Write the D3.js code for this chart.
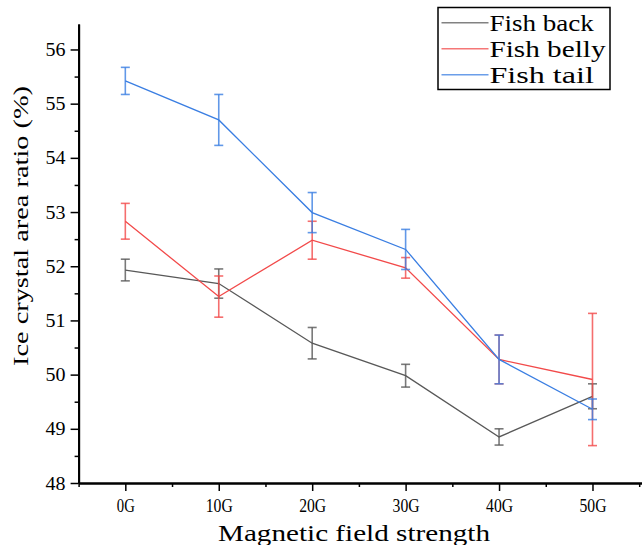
<!DOCTYPE html>
<html>
<head>
<meta charset="utf-8">
<script src="https://cdn.jsdelivr.net/npm/d3@7.9.0/dist/d3.min.js"></script>
<style>
  body { margin: 0; background: #fff; }
  svg { display: block; }
  text { font-family: "Liberation Serif", "DejaVu Serif", serif; fill: #000; }
</style>
</head>
<body>
<svg id="chart" width="642" height="545"></svg>
<script>
const categories = ['0G', '10G', '20G', '30G', '40G', '50G'];
const fieldValues = [0, 10, 20, 30, 40, 50];

const backMean = [51.93, 51.68, 50.58, 49.98, 48.85, 49.60];
const backErr = [0.20, 0.27, 0.29, 0.21, 0.15, 0.23];
const bellyMean = [52.83, 51.44, 52.48, 51.97, 50.28, 49.91];
const bellyErr = [0.33, 0.38, 0.35, 0.19, 0.45, 1.22];
const tailMean = [55.42, 54.70, 52.99, 52.31, 50.28, 49.36];
const tailErr = [0.25, 0.47, 0.37, 0.37, 0.45, 0.19];

const seriesNames = ['Fish back', 'Fish belly', 'Fish tail'];
const seriesColors = ['#585858', '#f24a4a', '#3a7ee2'];

const yTicks = [48, 49, 50, 51, 52, 53, 54, 55, 56];

const series = [
  { name: seriesNames[0], mean: backMean, err: backErr, color: seriesColors[0] },
  { name: seriesNames[1], mean: bellyMean, err: bellyErr, color: seriesColors[1] },
  { name: seriesNames[2], mean: tailMean, err: tailErr, color: seriesColors[2] },
];

const svg = d3.select('#chart');

const x = d3.scaleLinear().domain([-5, 55.3]).range([78.6, 642]);
const y = d3.scaleLinear().domain([48, 56.47]).range([483, 24]);

// y axis: minor ticks then major ticks with labels
svg.append('g')
  .attr('transform', 'translate(78.6,0)')
  .call(d3.axisLeft(y).tickValues(d3.range(48.5, 56.5, 1)).tickSize(4).tickFormat('').tickSizeOuter(0));

const yAxis = svg.append('g')
  .attr('transform', 'translate(78.6,0)')
  .call(d3.axisLeft(y).tickValues(yTicks).tickSize(8).tickPadding(5).tickSizeOuter(0));

yAxis.selectAll('text')
  .attr('font-size', 19)
  .attr('textLength', 20)
  .attr('lengthAdjust', 'spacingAndGlyphs');

// x axis
svg.append('g')
  .attr('transform', 'translate(0,483)')
  .call(d3.axisBottom(x).tickValues(d3.range(-5, 56, 10)).tickSize(4).tickFormat('').tickSizeOuter(0));

const xAxis = svg.append('g')
  .attr('transform', 'translate(0,483)')
  .call(d3.axisBottom(x).tickValues(fieldValues).tickSize(8).tickPadding(8)
    .tickFormat((d, i) => categories[i]).tickSizeOuter(0));

xAxis.selectAll('text')
  .attr('font-size', 19)
  .attr('textLength', (d, i) => categories[i].length * 9)
  .attr('lengthAdjust', 'spacingAndGlyphs');

svg.selectAll('.domain').attr('stroke', '#000').attr('stroke-width', 2);
svg.selectAll('.tick line').attr('stroke', '#000').attr('stroke-width', 1.5);

// axis titles
svg.append('text')
  .attr('x', 354)
  .attr('y', 541)
  .attr('text-anchor', 'middle')
  .attr('font-size', 23)
  .attr('textLength', 272)
  .attr('lengthAdjust', 'spacingAndGlyphs')
  .text('Magnetic field strength');

svg.append('text')
  .attr('transform', 'translate(28,226) rotate(-90)')
  .attr('text-anchor', 'middle')
  .attr('font-size', 22)
  .attr('textLength', 280)
  .attr('lengthAdjust', 'spacingAndGlyphs')
  .text('Ice crystal area ratio (%)');

// series
const line = d3.line()
  .x((d, i) => x(fieldValues[i]))
  .y(d => y(d));

series.forEach(s => {
  const g = svg.append('g');
  g.append('path')
    .attr('d', line(s.mean))
    .attr('fill', 'none')
    .attr('stroke', s.color)
    .attr('stroke-width', 1.3);

  const bars = g.selectAll('.err')
    .data(s.mean)
    .join('g')
    .attr('stroke', s.color)
    .attr('stroke-opacity', 0.8)
    .attr('stroke-width', 1.6);

  bars.append('line')
    .attr('x1', (d, i) => x(fieldValues[i]))
    .attr('x2', (d, i) => x(fieldValues[i]))
    .attr('y1', (d, i) => y(d + s.err[i]))
    .attr('y2', (d, i) => y(d - s.err[i]));
  bars.append('line')
    .attr('x1', (d, i) => x(fieldValues[i]) - 4.5)
    .attr('x2', (d, i) => x(fieldValues[i]) + 4.5)
    .attr('y1', (d, i) => y(d + s.err[i]))
    .attr('y2', (d, i) => y(d + s.err[i]));
  bars.append('line')
    .attr('x1', (d, i) => x(fieldValues[i]) - 4.5)
    .attr('x2', (d, i) => x(fieldValues[i]) + 4.5)
    .attr('y1', (d, i) => y(d - s.err[i]))
    .attr('y2', (d, i) => y(d - s.err[i]));
});

// legend
const legend = svg.append('g');
legend.append('rect')
  .attr('x', 438)
  .attr('y', 7.5)
  .attr('width', 172)
  .attr('height', 82)
  .attr('fill', '#fff')
  .attr('stroke', '#000')
  .attr('stroke-width', 1.5);

series.forEach((s, i) => {
  const ly = 22.7 + i * 26;
  legend.append('line')
    .attr('x1', 441.5).attr('x2', 488.5)
    .attr('y1', ly).attr('y2', ly)
    .attr('stroke', s.color)
    .attr('stroke-opacity', 0.75)
    .attr('stroke-width', 1.5);
  legend.append('text')
    .attr('x', 489.5)
    .attr('y', ly + 8)
    .attr('font-size', 23)
    .attr('textLength', s.name.length * 11.6)
    .attr('lengthAdjust', 'spacingAndGlyphs')
    .text(s.name);
});
</script>
</body>
</html>
